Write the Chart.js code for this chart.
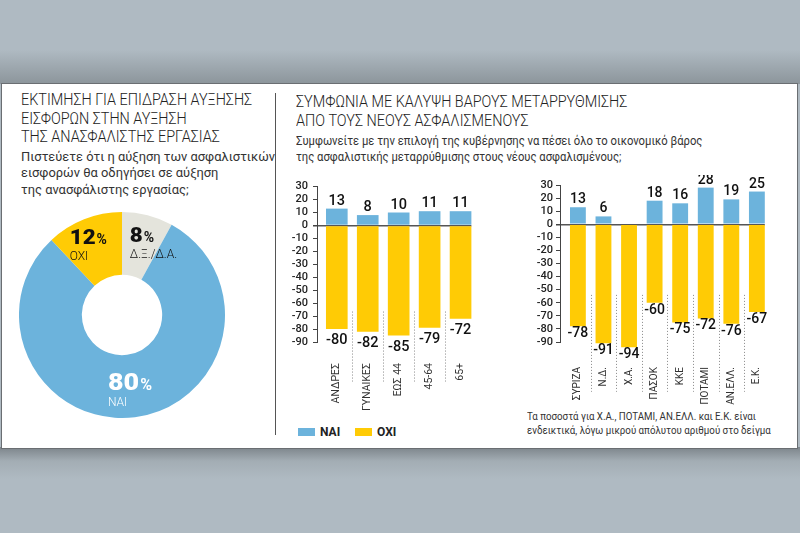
<!DOCTYPE html>
<html><head><meta charset="utf-8">
<script src="https://cdn.jsdelivr.net/npm/chart.js@4.4.1/dist/chart.umd.min.js"></script>
<style>
html,body{margin:0;padding:0;}
body{width:800px;height:533px;position:relative;overflow:hidden;background:#afbac2;font-family:Roboto,"Noto Sans",sans-serif;}
#bgTop{position:absolute;left:0;top:0;width:800px;height:84px;background:linear-gradient(#afbac2 0,#afbac2 50px,#8c959b 84px);}
#bgBot{position:absolute;left:0;top:447px;width:800px;height:86px;background:linear-gradient(#7c848a 0,#a3adb4 14px,#afbac2 32px);}
#panel{position:absolute;left:1px;top:83px;width:797px;height:366px;box-sizing:border-box;background:#fff;border:1px solid #6a6e72;}
#divider{position:absolute;left:275px;top:93px;width:1px;height:342px;background:#555;}
.t{position:absolute;white-space:nowrap;color:#222;transform-origin:0 0;}
.title{font-weight:300;font-size:16px;line-height:18.5px;transform:scaleX(0.9);}
.sub{font-weight:400;font-size:13.5px;line-height:16.7px;color:#333;transform:scaleX(0.955);}
.sub2{font-weight:400;font-size:12.3px;line-height:16.3px;color:#333;transform:scaleX(0.915);}
.foot{font-weight:400;font-size:11.3px;line-height:14.3px;color:#333;transform:scaleX(0.86);}
canvas{position:absolute;}
.leg{position:absolute;font-weight:700;font-size:12px;color:#222;line-height:14px;}
.box{position:absolute;width:17px;height:8px;}
</style></head>
<body>
<div id="bgTop"></div><div id="bgBot"></div>
<div id="panel"></div>
<div id="divider"></div>

<div class="t title" id="lt" style="left:21px;top:91px;"></div>
<div class="t sub" id="ls" style="left:21px;top:147.5px;"></div>
<div class="t title" id="rt" style="left:296px;top:93px;"></div>
<div class="t sub2" id="rs" style="left:296px;top:133px;"></div>
<div class="t foot" id="ft" style="left:527px;top:410px;"></div>

<canvas id="donut" width="206" height="206" style="left:19px;top:212px;"></canvas>
<canvas id="mid" width="210" height="240" style="left:285px;top:175px;"></canvas>
<canvas id="right" width="275" height="240" style="left:520px;top:175px;"></canvas>

<div id="legend"></div>

<script>
// ---------- DATA ----------
const leftTitle = ['ΕΚΤΙΜΗΣΗ ΓΙΑ ΕΠΙΔΡΑΣΗ ΑΥΞΗΣΗΣ','ΕΙΣΦΟΡΩΝ ΣΤΗΝ ΑΥΞΗΣΗ','ΤΗΣ ΑΝΑΣΦΑΛΙΣΤΗΣ ΕΡΓΑΣΙΑΣ'];
const leftSub = ['Πιστεύετε ότι η αύξηση των ασφαλιστικών','εισφορών θα οδηγήσει σε αύξηση','της ανασφάλιστης εργασίας;'];
const rightTitle = ['ΣΥΜΦΩΝΙΑ ΜΕ ΚΑΛΥΨΗ ΒΑΡΟΥΣ ΜΕΤΑΡΡΥΘΜΙΣΗΣ','ΑΠΟ ΤΟΥΣ ΝΕΟΥΣ ΑΣΦΑΛΙΣΜΕΝΟΥΣ'];
const rightSub = ['Συμφωνείτε με την επιλογή της κυβέρνησης να πέσει όλο το οικονομικό βάρος','της ασφαλιστικής μεταρρύθμισης στους νέους ασφαλισμένους;'];
const footnote = ['Τα ποσοστά για Χ.Α., ΠΟΤΑΜΙ, ΑΝ.ΕΛΛ. και Ε.Κ. είναι','ενδεικτικά, λόγω μικρού απόλυτου αριθμού στο δείγμα'];

const donutLabels = ['Δ.Ξ./Δ.Α.', 'ΝΑΙ', 'ΟΧΙ'];
const donutValues = [8, 80, 12];

const seriesNames = ['ΝΑΙ', 'ΟΧΙ'];
const groupCats = ['ΑΝΔΡΕΣ', 'ΓΥΝΑΙΚΕΣ', 'ΕΩΣ 44', '45-64', '65+'];
const groupYes = [13, 8, 10, 11, 11];
const groupNo = [-80, -82, -85, -79, -72];

const partyCats = ['ΣΥΡΙΖΑ', 'Ν.Δ.', 'Χ.Α.', 'ΠΑΣΟΚ', 'ΚΚΕ', 'ΠΟΤΑΜΙ', 'ΑΝ.ΕΛΛ.', 'Ε.Κ.'];
const partyYes = [13, 6, null, 18, 16, 28, 19, 25];
const partyNo = [-78, -91, -94, -60, -75, -72, -76, -67];

const yMin = -90, yMax = 30, yStep = 10;

// ---------- STYLE ----------
const BLUE = '#6cb3dc', YELLOW = '#ffcb05', GREY = '#e4e4dc';
const donutColors = [GREY, BLUE, YELLOW];
const donutLabelStyle = [
  {dx:-10, dy:-4, size:20, color:'#111', nx:0, ny:16},
  {dx:-23, dy:4,  size:24, color:'#fff', nx:0, ny:16},
  {dx:-26, dy:-4, size:20, color:'#111', nx:0, ny:16}
];

function fillLines(id, lines){ document.getElementById(id).innerHTML = lines.map(l=>'<div>'+l+'</div>').join(''); }
fillLines('lt', leftTitle); fillLines('ls', leftSub); fillLines('rt', rightTitle); fillLines('rs', rightSub); fillLines('ft', footnote);

// legend
(function(){
  const lg = document.getElementById('legend');
  const cols = [BLUE, YELLOW];
  const xs = [298, 355];
  seriesNames.forEach((n,i)=>{
    const b = document.createElement('div'); b.className='box';
    b.style.left = xs[i]+'px'; b.style.top='428px'; b.style.background=cols[i];
    lg.appendChild(b);
    const t = document.createElement('div'); t.className='leg'; t.textContent=n;
    t.style.left=(xs[i]+22)+'px'; t.style.top='425px';
    lg.appendChild(t);
  });
})();

// ---------- DONUT ----------
const donutLabelPlugin = {
  id:'donutLabels',
  afterDatasetsDraw(chart){
    const ctx = chart.ctx; const meta = chart.getDatasetMeta(0);
    meta.data.forEach((arc,i)=>{
      const p = arc.tooltipPosition();
      const st = donutLabelStyle[i];
      const x = p.x + st.dx, y = p.y + st.dy;
      const num = String(donutValues[i]);
      const sx = 1.12;
      ctx.save();
      ctx.fillStyle = st.color; ctx.textAlign='left'; ctx.textBaseline='alphabetic';
      ctx.font = '900 '+st.size+'px Roboto';
      const w = ctx.measureText(num).width * sx;
      ctx.translate(x, y); ctx.scale(sx, 1);
      ctx.fillText(num, 0, 0);
      ctx.restore();
      ctx.save();
      ctx.fillStyle = st.color; ctx.textAlign='left'; ctx.textBaseline='alphabetic';
      ctx.font = '700 '+Math.round(st.size*0.68)+'px Roboto';
      ctx.fillText('%', x+w+1, y);
      ctx.font = '300 12px Roboto';
      ctx.fillText(donutLabels[i], x+st.nx, y+st.ny);
      ctx.restore();
    });
  }
};

new Chart(document.getElementById('donut'), {
  type:'doughnut',
  data:{labels:donutLabels, datasets:[{data:donutValues, backgroundColor:donutColors, borderWidth:0}]},
  options:{responsive:false, animation:false, devicePixelRatio:1, cutout:'39%',
    layout:{padding:0},
    plugins:{legend:{display:false}, tooltip:{enabled:false}}},
  plugins:[donutLabelPlugin]
});

// ---------- BARS ----------
const sepPlugin = {
  id:'seps',
  afterDatasetsDraw(chart){
    const ctx = chart.ctx, xs = chart.scales.x, ys = chart.scales.y;
    const n = chart.$cats.length;
    ctx.save();
    ctx.strokeStyle = '#888'; ctx.lineWidth = 1; ctx.setLineDash([1,2]);
    for(let i=0;i<n-1;i++){
      const x = Math.round(xs.getPixelForValue(i+0.5))+0.5;
      ctx.beginPath();
      ctx.moveTo(x, ys.getPixelForValue(chart.$st.sepFrom));
      ctx.lineTo(x, ys.getPixelForValue(chart.$st.sepTo));
      ctx.stroke();
    }
    ctx.restore();
  }
};
const valuePlugin = {
  id:'vals',
  afterDraw(chart){
    const ctx = chart.ctx, st = chart.$st;
    ctx.save();
    ctx.fillStyle = '#111'; ctx.textAlign='center'; ctx.textBaseline='alphabetic';
    ctx.font = '500 '+st.valSize+'px Roboto';
    chart.data.datasets.forEach((ds,di)=>{
      const meta = chart.getDatasetMeta(di);
      meta.data.forEach((el,i)=>{
        const v = ds.data[i].y;
        if(v===null || v===undefined) return;
        if(v>0) ctx.fillText(String(v), el.x, el.y - st.upOff);
        else ctx.fillText(String(v), el.x, el.y + st.downOff);
      });
    });
    ctx.restore();
  }
};

function barChart(id, cats, yes, no, st){
  return new Chart(document.getElementById(id), {
    type:'bar',
    data:{datasets:[
      {label:seriesNames[0], data:yes.map((v,i)=>({x:i,y:v})), backgroundColor:BLUE, grouped:false, barPercentage:st.barPct, categoryPercentage:1, clip:false},
      {label:seriesNames[1], data:no.map((v,i)=>({x:i,y:v})), backgroundColor:YELLOW, grouped:false, barPercentage:st.barPct, categoryPercentage:1, clip:false}
    ]},
    options:{
      responsive:false, animation:false, devicePixelRatio:1,
      layout:{padding:{left:0,right:st.padR,top:10,bottom:0}},
      plugins:{legend:{display:false}, tooltip:{enabled:false}},
      scales:{
        x:{type:'linear', min:st.xMin, max:st.xMax, bounds:'data', offset:false,
          grid:{display:false, drawTicks:false}, border:{display:false},
          afterBuildTicks:s=>{ s.ticks = cats.map((c,i)=>({value:i})); },
          afterFit:s=>{ s.height = st.xH; },
          ticks:{autoSkip:false, minRotation:90, maxRotation:90, padding:st.lblPad, color:'#333',
            font:{family:'Roboto', size:st.catSize}, callback:(v)=>cats[v]}},
        y:{type:'linear', min:yMin, max:yMax, z:1,
          afterFit:s=>{ s.width = st.yW; },
          ticks:{stepSize:yStep, autoSkip:false, padding:st.tickPad, color:'#222', font:{family:'Roboto', size:11, weight:'500'}},
          grid:{color:c=> (c.tick && c.tick.value===0) ? '#555' : 'rgba(0,0,0,0)',
                lineWidth:c=> (c.tick && c.tick.value===0) ? 1.5 : 1,
                tickColor:'#444', tickLength:4, drawTicks:true, drawOnChartArea:true},
          border:{display:true, color:'#444', width:1}}
      }
    },
    plugins:[sepPlugin, valuePlugin]
  });
}

const midStyle = {barPct:0.70, padR:12, xMin:-0.64, xMax:4.35, xH:73, yW:32, lblPad:21, catSize:10.5, tickPad:5,
  valSize:14.5, upOff:4, downOff:15, sepFrom:-66.5, sepTo:-120.5};
const rightStyle = {barPct:0.62, padR:29, xMin:-0.70, xMax:7.31, xH:73, yW:40, lblPad:25, catSize:10, tickPad:3,
  valSize:14, upOff:4, downOff:11, sepFrom:-54, sepTo:-128};

function make(id, cats, yes, no, st){
  const plug = {id:'meta_'+id, beforeInit(ch){ ch.$cats = cats; ch.$st = st; }};
  Chart.register(plug);
  const ch = barChart(id, cats, yes, no, st);
  Chart.unregister(plug);
  return ch;
}
make('mid', groupCats, groupYes, groupNo, midStyle);
make('right', partyCats, partyYes, partyNo, rightStyle);
</script>
</body></html>
